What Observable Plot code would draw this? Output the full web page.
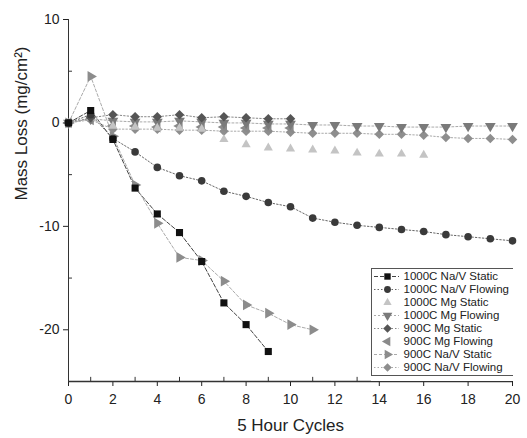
<!DOCTYPE html>
<html>
<head>
<meta charset="utf-8">
<script src="https://cdn.jsdelivr.net/npm/d3@7"></script>
<script src="https://cdn.jsdelivr.net/npm/@observablehq/plot@0.6"></script>
<style>
  html, body { margin: 0; padding: 0; background: #fff; }
  #wrap { position: relative; width: 527px; height: 438px; font-family: "Liberation Sans", Arial, sans-serif; }
  #legend { position: absolute; left: 371px; top: 261px; }
</style>
</head>
<body>
<div id="wrap"><div id="chart"></div><div id="legend"></div></div>
<script>
// ---- Data ----
const seriesNames = [
  "1000C Na/V Static", "1000C Na/V Flowing", "1000C Mg Static", "1000C Mg Flowing",
  "900C Mg Static", "900C Mg Flowing", "900C Na/V Static", "900C Na/V Flowing"
];
const naVStatic1000  = [0, 1.2, -1.6, -6.3, -8.8, -10.6, -13.4, -17.4, -19.5, -22.1];
const naVFlowing1000 = [0, 0.8, -1.5, -2.8, -4.3, -5.1, -5.6, -6.6, -7.1, -7.7, -8.1, -9.2, -9.6, -9.9, -10.1, -10.3, -10.5, -10.8, -11.0, -11.2, -11.4];
const mgStatic1000   = [0, 0.5, -0.3, -0.4, -0.5, -0.5, -0.6, -1.6, -2.1, -2.4, -2.5, -2.6, -2.7, -2.9, -3.0, -3.0, -3.1];
const mgFlowing1000  = [0, 0.4, 0.2, 0.1, 0.1, 0.2, 0.1, 0.0, 0.0, -0.1, -0.1, -0.2, -0.2, -0.3, -0.3, -0.4, -0.4, -0.4, -0.3, -0.3, -0.3];
const mgStatic900    = [0, 0.5, 0.8, 0.6, 0.6, 0.8, 0.5, 0.6, 0.5, 0.4, 0.4];
const mgFlowing900   = [0, 0.3, -0.3, -0.3, -0.4, -0.3, -0.4, -0.4, -0.5, -0.5, -0.5];
const naVStatic900   = [0, 4.5, -1.3, -6.0, -9.7, -13.0, -13.3, -15.3, -17.6, -18.4, -19.5, -20.0];
const naVFlowing900  = [0, 0.3, -0.6, -0.6, -0.6, -0.7, -0.7, -0.8, -0.8, -0.8, -0.9, -1.0, -1.0, -1.0, -1.1, -1.1, -1.2, -1.4, -1.5, -1.5, -1.6];
const xTicks = [0, 2, 4, 6, 8, 10, 12, 14, 16, 18, 20];
const yTicks = [10, 0, -10, -20];
const xMinor = [1, 3, 5, 7, 9, 11, 13, 15, 17, 19];
const yMinor = [5, -5, -15];

const valueArrays = [naVStatic1000, naVFlowing1000, mgStatic1000, mgFlowing1000, mgStatic900, mgFlowing900, naVStatic900, naVFlowing900];
const styles = [
  {fill: "#111", line: "#444", dash: "4,2", symbol: "square", rotate: 0, r: 4.0},
  {fill: "#3a3a3a", line: "#666", dash: "1.5,2", symbol: "circle", rotate: 0, r: 3.8},
  {fill: "#c4c4c4", line: "none", dash: null, symbol: "triangle", rotate: 0, r: 3.4},
  {fill: "#7a7a7a", line: "#aaa", dash: "2,2", symbol: "triangle", rotate: 180, r: 4.0},
  {fill: "#555", line: "#888", dash: "1.5,2", symbol: "diamond2", rotate: 0, r: 4.3},
  {fill: "#8a8a8a", line: "none", dash: null, symbol: "triangle", rotate: -90, r: 4.0},
  {fill: "#8c8c8c", line: "#aaa", dash: "3,2", symbol: "triangle", rotate: 90, r: 4.0},
  {fill: "#8e8e8e", line: "#aaa", dash: "1.5,2", symbol: "diamond2", rotate: 0, r: 4.3}
];

const rows = [];
seriesNames.forEach((name, i) => valueArrays[i].forEach((v, k) => rows.push({series: name, cycle: k, mass: v})));

const lineMarks = [], dotMarks = [];
seriesNames.forEach((name, i) => {
  const s = styles[i];
  const data = rows.filter(d => d.series === name);
  if (s.line !== "none") lineMarks.push(Plot.line(data, {x: "cycle", y: "mass", stroke: s.line, strokeWidth: 1, strokeDasharray: s.dash}));
});
// draw lighter series first, the dark ones on top
[7, 5, 3, 2, 4, 6, 1, 0].forEach(i => {
  const s = styles[i];
  const data = rows.filter(d => d.series === seriesNames[i]);
  dotMarks.push(Plot.dot(data, {x: "cycle", y: "mass", symbol: s.symbol, fill: s.fill, stroke: "none", r: s.r, rotate: s.rotate}));
});

const chart = Plot.plot({
  width: 527, height: 438,
  marginLeft: 68, marginRight: 15, marginTop: 19, marginBottom: 57,
  style: {fontFamily: "Liberation Sans, Arial, sans-serif", fontSize: "14px", color: "#222", background: "#fff"},
  x: {domain: [0, 20], ticks: xTicks, tickSize: 5, tickPadding: 8, tickFormat: d => String(d), label: null},
  y: {domain: [-25, 10], ticks: yTicks, tickSize: 5, tickPadding: 4, tickFormat: d => String(d), label: null},
  marks: [
    Plot.ruleX(xMinor, {y1: -25, y2: -24.6, stroke: "#333"}),
    Plot.ruleY(yMinor, {x1: 0, x2: 0.18, stroke: "#333"}),
    Plot.ruleY([-25], {stroke: "#333", strokeWidth: 1.3}),
    Plot.ruleX([0], {stroke: "#333", strokeWidth: 1}),
    ...lineMarks,
    ...dotMarks,
    Plot.text(["5 Hour Cycles"], {frameAnchor: "bottom", dy: 49, fontSize: 17, fill: "#222"}),
    Plot.text(["Mass Loss (mg/cm²)"], {frameAnchor: "left", rotate: -90, dx: -47, fontSize: 17, fill: "#222"})
  ]
});
document.getElementById("chart").appendChild(chart);

// ---- Legend (inside plot area, lower right) ----
const legendRows = seriesNames.map((name, i) => ({series: name, idx: i}));
const legend = Plot.plot({
  width: 142, height: 120,
  margin: 0, marginTop: 7, marginBottom: 6,
  style: {fontFamily: "Liberation Sans, Arial, sans-serif", fontSize: "11.5px", color: "#222", background: "#fff"},
  x: {domain: [0, 142], range: [0, 142], axis: null},
  y: {domain: seriesNames, axis: null, type: "point"},
  marks: [
    Plot.frame({stroke: "#555", strokeWidth: 1, inset: 0, marginTop: 0, marginBottom: 0}),
    ...legendRows.filter(d => styles[d.idx].line !== "none").map(d =>
      Plot.ruleY([d], {y: "series", x1: 3, x2: 28, stroke: styles[d.idx].line, strokeDasharray: styles[d.idx].dash})),
    ...legendRows.map(d => Plot.dot([d], {x: () => 16, y: "series", symbol: styles[d.idx].symbol, fill: styles[d.idx].fill, r: styles[d.idx].r * 0.9, rotate: styles[d.idx].rotate})),
    Plot.text(legendRows, {x: () => 32, y: "series", text: "series", textAnchor: "start", fill: "#222"})
  ]
});
document.getElementById("legend").appendChild(legend);
</script>
</body>
</html>
